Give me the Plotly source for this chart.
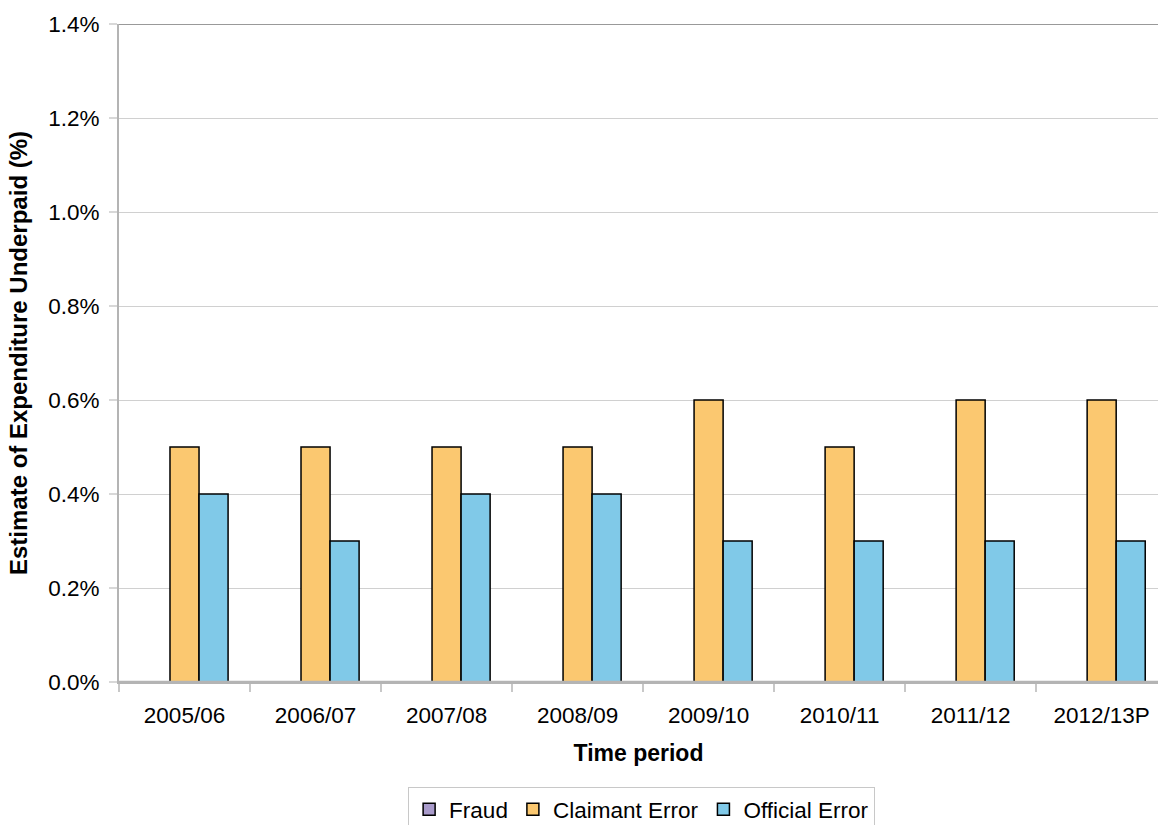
import plotly.graph_objects as go

periods = ["2005/06", "2006/07", "2007/08", "2008/09", "2009/10", "2010/11", "2011/12", "2012/13P"]
fraud = [0.0, 0.0, 0.0, 0.0, 0.0, 0.0, 0.0, 0.0]
claimant_error = [0.5, 0.5, 0.5, 0.5, 0.6, 0.5, 0.6, 0.6]
official_error = [0.4, 0.3, 0.4, 0.4, 0.3, 0.3, 0.3, 0.3]
y_ticks = [0.0, 0.2, 0.4, 0.6, 0.8, 1.0, 1.2, 1.4]

FONT = "Liberation Sans, Arial, sans-serif"
TICK_SIZE = 22.5
AXIS_GREY = "#B4B4B4"

fig = go.Figure()
series = [
    ("Fraud", fraud, "#A99BCB"),
    ("Claimant Error", claimant_error, "#FBC870"),
    ("Official Error", official_error, "#80C9E8"),
]
for name, vals, color in series:
    fig.add_trace(go.Bar(
        name=name,
        x=periods,
        y=vals,
        marker=dict(color=color, line=dict(color="#000000", width=1.5)),
    ))

fig.update_layout(
    width=1158,
    height=825,
    barmode="group",
    bargap=0.335,
    bargroupgap=0,
    plot_bgcolor="white",
    paper_bgcolor="white",
    margin=dict(l=119, r=0, t=24, b=143, autoexpand=False),
    font=dict(family=FONT, size=TICK_SIZE, color="#000000"),
    legend=dict(
        orientation="h",
        x=0.503,
        xanchor="center",
        y=-0.1596,
        yanchor="top",
        bordercolor="#C8C8C8",
        borderwidth=1,
        font=dict(family=FONT, size=TICK_SIZE),
        itemwidth=30,
    ),
    showlegend=True,
)

fig.update_xaxes(
    type="category",
    range=[-0.5, 7.43],
    showgrid=False,
    showline=True,
    linecolor=AXIS_GREY,
    linewidth=2,
    layer="above traces",
    ticks="outside",
    tickson="boundaries",
    ticklen=8,
    tickwidth=2,
    tickcolor="#C8C8C8",
    ticklabelstandoff=12,
    tickfont=dict(family=FONT, size=TICK_SIZE),
    title=dict(text="<b>Time period</b>", font=dict(family=FONT, size=23), standoff=18),
)

fig.update_yaxes(
    range=[0, 1.4],
    tickvals=y_ticks,
    ticktext=[f"{v:.1f}%" for v in y_ticks],
    showgrid=True,
    gridcolor="#D0D0D0",
    gridwidth=1,
    showline=True,
    linecolor=AXIS_GREY,
    linewidth=2,
    layer="above traces",
    ticks="outside",
    ticklen=8,
    tickwidth=2,
    tickcolor="#D8D8D8",
    ticklabelstandoff=5,
    tickfont=dict(family=FONT, size=TICK_SIZE),
    zeroline=False,
    title=dict(text="<b>Estimate of Expenditure Underpaid (%)</b>", font=dict(family=FONT, size=24), standoff=14),
)

# category axis baseline drawn over the bar bottoms
fig.add_shape(type="line", xref="paper", yref="y", x0=0, x1=1, y0=0, y1=0,
              line=dict(color=AXIS_GREY, width=2.5), layer="above")
# darker border along the top of the plotting area
fig.add_shape(type="line", xref="paper", yref="y", x0=0, x1=1, y0=1.4, y1=1.4,
              line=dict(color="#999999", width=2), layer="above")

fig.write_html("out.html")
